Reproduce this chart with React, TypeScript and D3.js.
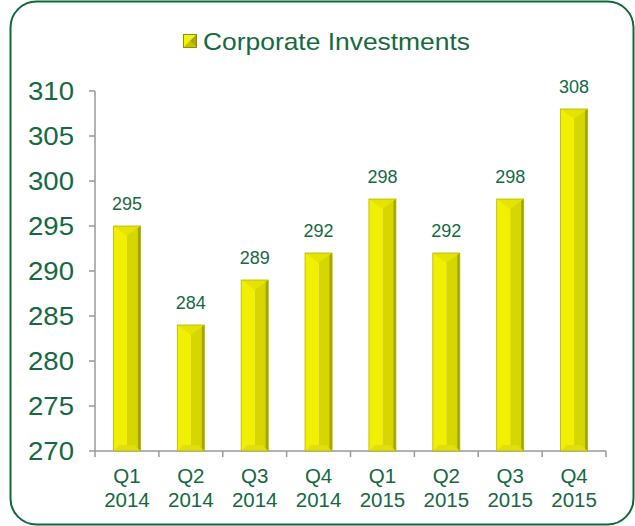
import React from "react";
import * as d3 from "d3";

const categories = ["Q1|2014", "Q2|2014", "Q3|2014", "Q4|2014", "Q1|2015", "Q2|2015", "Q3|2015", "Q4|2015"];
const values = [295, 284, 289, 292, 298, 292, 298, 308];
const yTicks = [270, 275, 280, 285, 290, 295, 300, 305, 310];
const seriesName = "Corporate Investments";

const W = 635, H = 526;
const GREEN = "#15693f";
const FONT = "Liberation Sans, Arial, Helvetica, sans-serif";

export default function App() {
  const x = d3.scaleBand<string>().domain(categories).range([95, 606]);
  const y = d3.scaleLinear().domain([270, 310]).range([451, 91]);
  const bw = 27;

  return (
    <div style={{ position: "fixed", left: 0, top: 0 }}>
      <svg width={W} height={H} style={{ display: "block", fontFamily: FONT }}>
        <rect x={0} y={0} width={W} height={H} fill="#fff" />
        <rect x={10.5} y={1.5} width={623} height={523} rx={26} ry={26} fill="#fff" stroke="#0d6a38" strokeWidth={2} />
        {/* legend */}
        <g>
          <rect x={183} y={34} width={14} height={14} fill="#d8d800" />
          <polygon points="183,34 197,34 190,41" fill="#eeee30" />
          <polygon points="183,34 190,41 183,48" fill="#f4f400" />
          <polygon points="197,34 197,48 190,41" fill="#a8a800" />
          <polygon points="183,48 197,48 190,41" fill="#c4c400" />
          <rect x={183.5} y={34.5} width={13} height={13} fill="none" stroke="#8f8f00" strokeWidth={1} />
          <text x={203} y={49.5} fontSize={24} fill={GREEN} textLength={267} lengthAdjust="spacingAndGlyphs">{seriesName}</text>
        </g>
        {/* y axis */}
        <line x1={95} x2={95} y1={91} y2={451} stroke="#999" strokeWidth={1.5} />
        {yTicks.map((t) => (
          <g key={t}>
            <line x1={89} x2={95} y1={y(t)} y2={y(t)} stroke="#999" strokeWidth={1.5} />
            <text x={74} y={y(t)} dy="0.36em" textAnchor="end" fontSize={25} fill={GREEN} textLength={46} lengthAdjust="spacingAndGlyphs">{t}</text>
          </g>
        ))}
        {/* x axis */}
        <line x1={95} x2={606} y1={451} y2={451} stroke="#999" strokeWidth={1.5} />
        {[...categories.map((c) => x(c)!), 606].map((px, i) => (
          <line key={i} x1={px} x2={px} y1={451} y2={457} stroke="#999" strokeWidth={1.5} />
        ))}
        {categories.map((c) => {
          const [q, yr] = c.split("|");
          const cx = x(c)! + x.bandwidth() / 2;
          return (
            <text key={c} textAnchor="middle" fontSize={20.5} fill={GREEN}>
              <tspan x={cx} y={483}>{q}</tspan>
              <tspan x={cx} y={507}>{yr}</tspan>
            </text>
          );
        })}
        {/* bars */}
        {values.map((v, i) => {
          const cx = x(categories[i])! + x.bandwidth() / 2;
          const x0 = cx - bw / 2, x1 = cx + bw / 2;
          const y0 = y(v), yb = y(270);
          const tb = 10;
          return (
            <g key={i}>
              <rect x={x0} y={y0} width={cx - x0} height={yb - y0} fill="#f0f000" />
              <rect x={cx} y={y0} width={x1 - cx} height={yb - y0} fill="#d6d600" />
              <rect x={x1 - 2.5} y={y0} width={2.5} height={yb - y0} fill="#a3a300" />
              <polygon points={`${x0},${y0} ${x1},${y0} ${cx},${y0 + tb}`} fill="#e4e400" />
              <polygon points={`${x0},${yb} ${x0 + 6},${yb - 6} ${x1 - 6},${yb - 6} ${x1},${yb}`} fill="#dede10" />
              <rect x={x0} y={y0} width={bw} height={yb - y0} fill="none" stroke="#b5b500" strokeWidth={0.8} />
              <text x={cx} y={y0 - 16} textAnchor="middle" fontSize={18} fill={GREEN}>{v}</text>
            </g>
          );
        })}
      </svg>
    </div>
  );
}
